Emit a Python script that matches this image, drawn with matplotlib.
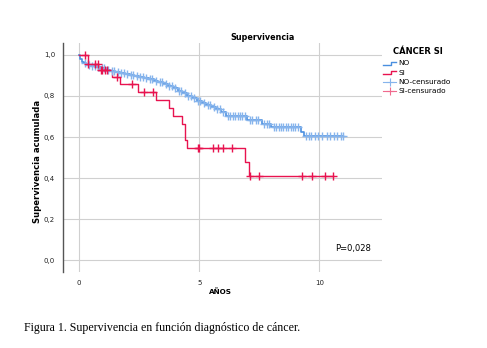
import numpy as np
import matplotlib
matplotlib.use("Agg")
import matplotlib.pyplot as plt
from matplotlib.lines import Line2D

# ---- data ----
no_times = [0, 0.05, 0.1, 0.2, 0.3, 0.5, 0.7, 0.9, 1.1, 1.3, 1.5, 1.7, 1.9, 2.1,
            2.3, 2.5, 2.7, 2.9, 3.1, 3.3, 3.5, 3.7, 3.9, 4.1, 4.3, 4.5, 4.7, 4.9,
            5.1, 5.3, 5.5, 5.7, 5.9, 6.1, 7.0, 7.6, 8.0, 9.25, 9.35]
no_surv = [1.0, 0.98, 0.967, 0.958, 0.951, 0.945, 0.94, 0.935, 0.928, 0.922,
           0.917, 0.912, 0.906, 0.902, 0.897, 0.892, 0.887, 0.882, 0.873, 0.866,
           0.858, 0.848, 0.838, 0.826, 0.812, 0.8, 0.788, 0.775, 0.765, 0.757,
           0.748, 0.735, 0.72, 0.703, 0.685, 0.665, 0.65, 0.625, 0.605]
no_end = 11.0
no_cens = [0.25, 0.4, 0.55, 0.65, 0.8, 0.95, 1.05, 1.2, 1.35, 1.45, 1.6, 1.75,
           1.85, 2.0, 2.15, 2.25, 2.4, 2.55, 2.65, 2.8, 2.95, 3.05, 3.2, 3.35,
           3.45, 3.6, 3.75, 3.85, 4.0, 4.15, 4.25, 4.4, 4.55, 4.65, 4.8, 4.95,
           5.05, 5.2, 5.35, 5.45, 5.6, 5.75, 5.85, 6.0, 6.2, 6.3, 6.4, 6.5, 6.6,
           6.7, 6.8, 6.9, 7.1, 7.2, 7.35, 7.45, 7.7, 7.8, 7.9, 8.1, 8.2, 8.3,
           8.4, 8.5, 8.6, 8.7, 8.8, 8.9, 9.0, 9.1, 9.45, 9.55, 9.65, 9.8, 9.95,
           10.1, 10.3, 10.45, 10.6, 10.75, 10.9, 11.0]

si_times = [0, 0.36, 0.79, 1.35, 1.72, 2.46, 3.18, 3.74, 3.92, 4.27, 4.4, 4.47,
            6.9, 7.08]
si_surv = [1.0, 0.955, 0.927, 0.891, 0.858, 0.818, 0.78, 0.74, 0.70, 0.662,
           0.585, 0.545, 0.477, 0.41]
si_end = 10.58
si_cens = [0.24, 0.38, 0.65, 0.77, 0.89, 0.97, 1.06, 1.14, 1.58, 2.22, 2.7,
           3.08, 4.93, 4.99, 5.56, 5.78, 6.0, 6.35, 7.1, 7.5, 9.27, 9.68, 10.24,
           10.58]

xticks = [0, 5, 10]
yticks = [0.0, 0.2, 0.4, 0.6, 0.8, 1.0]
ytick_labels = ["0,0", "0,2", "0,4", "0,6", "0,8", "1,0"]
legend_labels = ["NO", "SI", "NO-censurado", "SI-censurado"]

BLUE = "#4A8FE0"
RED = "#E8134F"
BLUE_L = "#86B4EC"
RED_L = "#F06A8E"

W, H = 487, 348


def surv_at(times, surv, t):
    idx = np.searchsorted(np.asarray(times), np.asarray(t), side="right") - 1
    return np.asarray(surv)[idx]


def fx(px):
    return px / W


def fy(py):
    return 1 - py / H


fig = plt.figure(figsize=(4.87, 3.48), dpi=100)
ax = fig.add_axes([0.130, 0.219, 0.654, 0.657])

for times, surv, end, cens, col, mcol, lw in [
        (no_times, no_surv, no_end, no_cens, BLUE, BLUE_L, 1.2),
        (si_times, si_surv, si_end, si_cens, RED, RED, 1.0)]:
    xs = list(times) + [end]
    ys = list(surv) + [surv[-1]]
    ax.step(xs, ys, where="post", color=col, lw=lw, zorder=3)
    ax.plot(cens, surv_at(times, surv, cens), ls="none", marker="+",
            ms=5.5, mew=1.0, color=mcol, zorder=4)

ax.set_xlim(-0.66, 12.6)
ax.set_ylim(-0.056, 1.057)
ax.set_xticks(xticks)
ax.set_yticks(yticks)
ax.set_yticklabels(ytick_labels)
ax.tick_params(length=0, labelsize=5, colors="#222222", pad=6)
ax.grid(True, color="#d0d0d0", lw=0.8, zorder=0)
for s in ["top", "right", "bottom"]:
    ax.spines[s].set_visible(False)
ax.spines["left"].set_color("#555555")
ax.spines["left"].set_linewidth(1.0)

# ---- manual legend ----
fig.text(fx(393), fy(51.7), "CÁNCER SI", ha="left", va="center",
         fontsize=6, fontweight="bold")
rows = [63.3, 72.7, 82.0, 91.0]
styles = [("step", BLUE), ("step", RED), ("cens", BLUE_L), ("cens", RED_L)]
for lab, ry, (kind, col) in zip(legend_labels, rows, styles):
    if kind == "step":
        xs = [fx(382.7), fx(391), fx(391), fx(396)]
        ys = [fy(ry + 1.5), fy(ry + 1.5), fy(ry - 1.5), fy(ry - 1.5)]
        fig.add_artist(Line2D(xs, ys, color=col, lw=1.0,
                              transform=fig.transFigure))
    else:
        fig.add_artist(Line2D([fx(382.7), fx(396)], [fy(ry), fy(ry)],
                              color=col, lw=0.8, transform=fig.transFigure))
        fig.add_artist(Line2D([fx(389.5)], [fy(ry)], color=col, marker="+",
                              ms=6, mew=0.8, ls="none",
                              transform=fig.transFigure))
    fig.text(fx(398.3), fy(ry), lab, ha="left", va="center", fontsize=5.3)

fig.text(fx(263), fy(37), "Supervivencia", ha="center", va="center",
         fontsize=5.8, fontweight="bold")
fig.text(fx(38), fy(161), "Supervivencia acumulada", rotation=90,
         ha="center", va="center", fontsize=6.1, fontweight="bold")
fig.text(fx(220.3), fy(292), "AÑOS", ha="center", va="center",
         fontsize=5.2, fontweight="bold")
fig.text(fx(353), fy(249), "P=0,028", ha="center", va="center",
         fontsize=6)
fig.text(fx(24), fy(328),
         "Figura 1. Supervivencia en función diagnóstico de cáncer.",
         ha="left", va="center", fontsize=8.6, family="Liberation Serif")

fig.savefig("out.png", dpi=100)
